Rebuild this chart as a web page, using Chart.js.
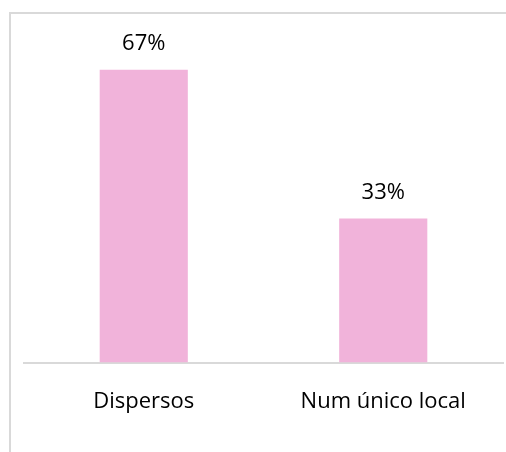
<!DOCTYPE html>
<html>
<head>
<meta charset="utf-8">
<script src="https://cdn.jsdelivr.net/npm/chart.js@4/dist/chart.umd.min.js"></script>
<style>
  html, body { margin: 0; padding: 0; background: #ffffff; }
  #wrap { width: 506px; height: 452px; position: relative; }
</style>
</head>
<body>
<div id="wrap"><canvas id="c" width="506" height="452"></canvas></div>
<script>
const categories = ["Dispersos", "Num único local"];
const values = [67, 33];
const valueLabels = ["67%", "33%"];

const FONT = "'Open Sans', sans-serif";

const frame = {
  id: 'frame',
  beforeDraw(chart) {
    const ctx = chart.ctx;
    ctx.save();
    ctx.fillStyle = '#ffffff';
    ctx.fillRect(0, 0, chart.width, chart.height);
    ctx.strokeStyle = '#d9d9d9';
    ctx.lineWidth = 2;
    ctx.strokeRect(10, 13, 600, 600);
    ctx.restore();
  }
};

const valueLabelPlugin = {
  id: 'valueLabels',
  afterDatasetsDraw(chart) {
    const ctx = chart.ctx;
    const meta = chart.getDatasetMeta(0);
    ctx.save();
    ctx.font = "22px " + FONT;
    ctx.fillStyle = '#000000';
    ctx.textAlign = 'center';
    ctx.textBaseline = 'alphabetic';
    meta.data.forEach((bar, i) => {
      ctx.fillText(valueLabels[i], bar.x, bar.y - 19.5);
    });
    ctx.restore();
  }
};

new Chart(document.getElementById('c'), {
  type: 'bar',
  data: {
    labels: categories,
    datasets: [{
      data: values,
      backgroundColor: '#F1B3DA',
      borderWidth: 0,
      categoryPercentage: 1,
      barPercentage: 0.368
    }]
  },
  options: {
    responsive: false,
    animation: false,
    devicePixelRatio: 1,
    layout: { padding: { left: 24, right: 3, top: 13, bottom: 11 } },
    plugins: { legend: { display: false }, tooltip: { enabled: false } },
    scales: {
      x: {
        grid: { display: false, drawTicks: false },
        border: { display: true, color: '#d9d9d9', width: 2 },
        ticks: { color: '#000000', font: { family: FONT, size: 22 }, padding: 26, maxRotation: 0 }
      },
      y: {
        display: false,
        min: 0,
        max: 80
      }
    }
  },
  plugins: [frame, valueLabelPlugin]
});
</script>
</body>
</html>
